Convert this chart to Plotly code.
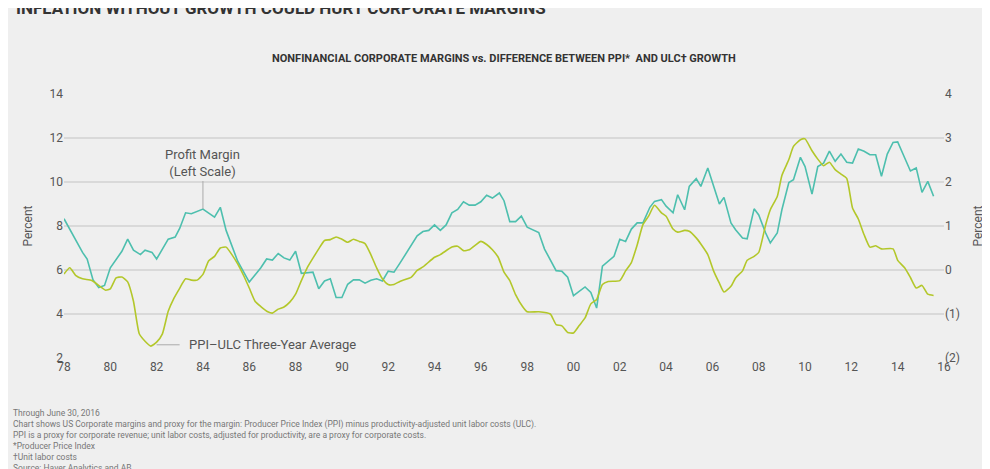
import plotly.graph_objects as go

margin_years = [1978.0,1978.3,1978.5,1978.8,1979.0,1979.25,1979.5,1979.75,1980.0,1980.5,1980.75,1981.0,1981.3,1981.5,1981.8,1982.0,1982.5,1982.8,1983.0,1983.25,1983.5,1984.0,1984.5,1984.75,1985.0,1985.3,1985.5,1986.0,1986.3,1986.5,1986.75,1987.0,1987.25,1987.5,1987.75,1988.0,1988.25,1988.75,1989.0,1989.25,1989.5,1989.75,1990.0,1990.25,1990.5,1990.75,1991.0,1991.25,1991.5,1991.75,1992.0,1992.25,1992.5,1992.75,1993.0,1993.25,1993.5,1993.75,1994.0,1994.25,1994.5,1994.75,1995.0,1995.25,1995.5,1995.75,1996.0,1996.25,1996.5,1996.8,1997.0,1997.25,1997.5,1997.75,1998.0,1998.5,1998.75,1999.25,1999.5,1999.75,2000.0,2000.5,2000.75,2001.0,2001.25,2001.75,2002.0,2002.25,2002.5,2002.75,2003.0,2003.3,2003.5,2003.8,2004.0,2004.3,2004.5,2004.8,2005.0,2005.3,2005.5,2005.8,2006.3,2006.5,2006.8,2007.0,2007.3,2007.5,2007.8,2008.0,2008.3,2008.5,2008.8,2009.0,2009.3,2009.5,2009.8,2010.0,2010.3,2010.55,2010.8,2011.05,2011.3,2011.55,2011.8,2012.05,2012.3,2012.55,2012.8,2013.05,2013.3,2013.55,2013.8,2014.0,2014.3,2014.55,2014.8,2015.05,2015.3,2015.55]
margin_values = [8.33,7.77,7.33,6.8,6.5,5.56,5.2,5.3,6.1,6.85,7.4,6.9,6.7,6.9,6.8,6.5,7.4,7.5,7.9,8.6,8.56,8.77,8.4,8.85,7.8,6.9,6.4,5.45,5.85,6.1,6.5,6.45,6.75,6.55,6.45,6.85,5.85,5.9,5.15,5.5,5.6,4.75,4.75,5.35,5.55,5.55,5.4,5.53,5.6,5.5,5.95,5.9,6.3,6.7,7.1,7.55,7.75,7.8,8.05,7.8,8.05,8.6,8.75,9.1,8.95,8.95,9.1,9.4,9.27,9.5,9.15,8.2,8.2,8.45,7.95,7.7,6.95,5.97,5.94,5.67,4.83,5.23,4.98,4.27,6.17,6.62,7.4,7.3,7.86,8.14,8.14,8.85,9.12,9.2,8.9,8.6,9.42,8.74,9.8,10.15,9.8,10.64,9.0,9.3,8.14,7.83,7.45,7.42,8.78,8.5,7.68,7.23,7.68,8.74,9.98,10.1,11.12,10.7,9.45,10.7,10.86,11.4,10.94,11.27,10.9,10.86,11.5,11.4,11.24,11.24,10.26,11.27,11.8,11.82,11.1,10.5,10.64,9.53,10.03,9.35]

ppi_years = [1978.0,1978.25,1978.5,1978.8,1979.2,1979.6,1979.8,1980.0,1980.25,1980.5,1980.75,1981.0,1981.25,1981.5,1981.75,1982.0,1982.25,1982.5,1982.75,1983.0,1983.25,1983.5,1983.75,1984.0,1984.25,1984.5,1984.75,1985.0,1985.25,1985.5,1985.75,1986.0,1986.25,1986.5,1986.8,1987.0,1987.25,1987.5,1987.75,1988.0,1988.25,1988.5,1988.75,1989.0,1989.25,1989.5,1989.75,1990.0,1990.25,1990.5,1990.75,1991.0,1991.25,1991.5,1991.75,1992.0,1992.25,1992.5,1993.0,1993.25,1993.5,1994.0,1994.25,1994.75,1995.0,1995.25,1995.5,1995.75,1996.0,1996.25,1996.5,1996.75,1997.0,1997.25,1997.5,1997.8,1998.0,1998.5,1999.0,1999.25,1999.5,1999.75,2000.0,2000.25,2000.5,2000.75,2001.0,2001.25,2001.5,2002.0,2002.25,2002.5,2002.75,2003.0,2003.25,2003.5,2003.8,2004.0,2004.3,2004.5,2004.8,2005.0,2005.3,2005.5,2005.8,2006.05,2006.3,2006.5,2006.8,2007.0,2007.3,2007.5,2007.8,2008.0,2008.3,2008.5,2008.8,2009.0,2009.3,2009.5,2009.8,2010.0,2010.3,2010.55,2010.8,2011.05,2011.3,2011.55,2011.8,2012.05,2012.3,2012.55,2012.8,2013.05,2013.3,2013.8,2014.0,2014.3,2014.55,2014.8,2015.05,2015.3,2015.55]
ppi_values = [-0.09,0.05,-0.12,-0.2,-0.24,-0.39,-0.46,-0.43,-0.18,-0.16,-0.27,-0.71,-1.45,-1.62,-1.73,-1.64,-1.45,-0.94,-0.64,-0.41,-0.2,-0.23,-0.23,-0.1,0.21,0.31,0.5,0.52,0.35,0.14,-0.12,-0.41,-0.71,-0.83,-0.95,-0.98,-0.89,-0.84,-0.73,-0.55,-0.24,0.05,0.27,0.48,0.67,0.69,0.75,0.7,0.63,0.7,0.65,0.6,0.35,0.05,-0.2,-0.33,-0.33,-0.26,-0.16,-0.01,0.07,0.29,0.35,0.52,0.54,0.44,0.46,0.56,0.65,0.58,0.46,0.29,-0.05,-0.24,-0.56,-0.83,-0.95,-0.95,-1.0,-1.24,-1.27,-1.42,-1.43,-1.26,-1.09,-0.77,-0.67,-0.33,-0.26,-0.24,-0.02,0.17,0.57,1.03,1.23,1.47,1.3,1.22,0.93,0.86,0.9,0.88,0.73,0.59,0.35,-0.02,-0.3,-0.5,-0.37,-0.18,-0.02,0.22,0.31,0.4,1.03,1.37,1.67,2.15,2.51,2.81,2.96,2.98,2.71,2.52,2.37,2.45,2.28,2.18,2.08,1.41,1.16,0.8,0.52,0.55,0.48,0.48,0.22,0.05,-0.17,-0.41,-0.35,-0.55,-0.58]

x_tick_years = list(range(1978, 2017, 2))
x_tick_labels = ["78","80","82","84","86","88","90","92","94","96","98","00","02","04","06","08","10","12","14","16"]
left_ticks = [2, 4, 6, 8, 10, 12, 14]
right_ticks = [-2, -1, 0, 1, 2, 3, 4]
right_labels = ["(2)", "(1)", "0", "1", "2", "3", "4"]

TEAL = "#4dbfae"
GREEN = "#b3c72a"
BG = "#efefef"
FONT = "Roboto"

fig = go.Figure()
fig.add_trace(go.Scatter(x=ppi_years, y=ppi_values, yaxis="y2", mode="lines",
                         line=dict(color=GREEN, width=1.6, shape="spline", smoothing=0.5), hoverinfo="skip"))
fig.add_trace(go.Scatter(x=margin_years, y=margin_values, mode="lines",
                         line=dict(color=TEAL, width=1.6), hoverinfo="skip"))

fig.update_layout(
    width=990, height=469, showlegend=False,
    paper_bgcolor=BG, plot_bgcolor=BG,
    margin=dict(l=56, r=54, t=86, b=119),
    font=dict(family=FONT, color="#555", size=12),
    xaxis=dict(range=[1978, 2016], tickvals=x_tick_years, ticktext=x_tick_labels,
               showgrid=False, zeroline=False, showline=False, ticks="", ticklen=0,
               tickfont=dict(size=12, color="#555")),
    yaxis=dict(range=[2, 14], tickvals=left_ticks, showgrid=True, gridcolor="#d9d9d9", gridwidth=1.5,
               zeroline=False, ticks="", tickfont=dict(size=12, color="#555"),
               title=dict(text="Percent", font=dict(size=12, color="#555"), standoff=14)),
    yaxis2=dict(range=[-2, 4], tickvals=right_ticks, ticktext=right_labels, overlaying="y", side="right",
                showgrid=False, zeroline=False, ticks="", tickfont=dict(size=12, color="#555"),
                title=dict(text="Percent", font=dict(size=12, color="#555"), standoff=14)),
)

fig.add_annotation(xref="paper", yref="paper", x=-0.057, y=1.325, xanchor="left", yanchor="middle",
                   text="<b>INFLATION WITHOUT GROWTH COULD HURT CORPORATE MARGINS</b>", showarrow=False,
                   font=dict(size=17, color="#333", family=FONT))
fig.add_annotation(xref="paper", yref="paper", x=0.5, y=1.135, xanchor="center", yanchor="middle",
                   text="<b>NONFINANCIAL CORPORATE MARGINS vs. DIFFERENCE BETWEEN PPI*  AND ULC† GROWTH</b>",
                   showarrow=False, font=dict(size=11, color="#333", family=FONT))
fig.add_annotation(x=1984.0, y=8.77, ax=0, ay=-28, text="Profit Margin<br>(Left Scale)",
                   showarrow=True, arrowhead=0, arrowwidth=1, arrowcolor="#aaa",
                   yanchor="bottom", font=dict(size=13, color="#555"))
fig.add_annotation(x=1982.0, y=2.6, ax=26, ay=0, text=" ", showarrow=True, arrowhead=0,
                   arrowwidth=1, arrowcolor="#aaa")
fig.add_annotation(x=1983.3, y=2.6, xanchor="left", text="PPI–ULC Three-Year Average",
                   showarrow=False, font=dict(size=13, color="#555"))

notes = ("Through June 30, 2016<br>"
         "Chart shows US Corporate margins and proxy for the margin: Producer Price Index (PPI) minus productivity-adjusted unit labor costs (ULC).<br>"
         "PPI is a proxy for corporate revenue; unit labor costs, adjusted for productivity, are a proxy for corporate costs.<br>"
         "*Producer Price Index<br>†Unit labor costs<br>Source: Haver Analytics and AB")
fig.add_annotation(xref="paper", yref="paper", x=-0.06, y=-0.18, xanchor="left", yanchor="top",
                   text=notes, align="left", showarrow=False,
                   font=dict(size=8.5, color="#777", family=FONT))

fig.write_html("out.html")
